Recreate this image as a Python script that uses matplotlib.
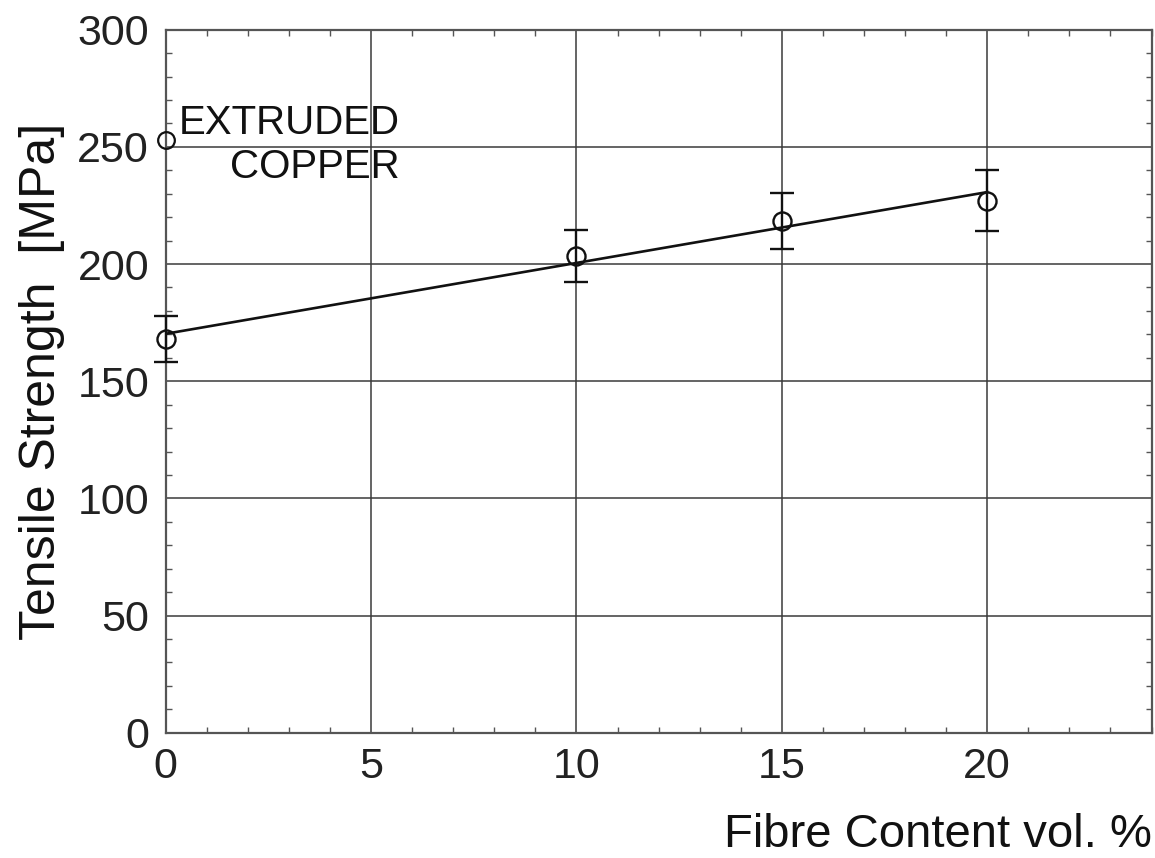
import numpy as np
import matplotlib
matplotlib.use("Agg")
import matplotlib.pyplot as plt
from matplotlib.ticker import MultipleLocator

plt.rcParams['font.family'] = ['Liberation Sans', 'DejaVu Sans']

# composite samples
fibre = [0, 10, 15, 20]
strength = [168, 203.5, 218.5, 227]
err = [10, 11, 12, 13]

# reference material
copper_x = [0]
copper_y = [253]

fig = plt.figure(figsize=(11.55, 8.58), dpi=100)
ax = fig.add_axes([0.1435, 0.146, 0.8535, 0.8194])

ax.set_xlim(0, 24)
ax.set_ylim(0, 300)
ax.xaxis.set_major_locator(MultipleLocator(5))
ax.xaxis.set_minor_locator(MultipleLocator(1))
ax.yaxis.set_major_locator(MultipleLocator(50))
ax.yaxis.set_minor_locator(MultipleLocator(10))
ax.set_xticks([0, 5, 10, 15, 20])
ax.grid(True, which='major', color='#3a3a3a', linewidth=1.1)
ax.set_axisbelow(True)

ax.tick_params(which='both', direction='in', top=True, right=True,
               colors='#555555', labelcolor='#222222')
ax.tick_params(which='major', length=0, labelsize=31, pad=12)
ax.tick_params(which='minor', length=4, width=1)
ax.tick_params(axis='x', which='major', pad=10)
for s in ax.spines.values():
    s.set_color('#555555')
    s.set_linewidth(1.6)

# linear regression through the samples
k, b = np.polyfit(fibre, strength, 1)
xs = np.array([fibre[0], fibre[-1]])
ax.plot(xs, k * xs + b, color='#111111', linewidth=1.9, zorder=3)

eb = ax.errorbar(fibre, strength, yerr=err, fmt='o', mfc='none', mec='#111111',
                 ms=13, mew=1.7, ecolor='#111111', elinewidth=1.7, capsize=8.5,
                 capthick=2.2, zorder=4)
for art in eb.lines[0:1] + tuple(eb.lines[1]) + tuple(eb.lines[2]):
    art.set_clip_on(False)
ax.plot(copper_x, copper_y, 'o', mfc='none', mec='#111111', ms=12, mew=1.6,
        clip_on=False, zorder=5)

ax.text(5.7, 255.5, 'EXTRUDED', ha='right', va='baseline', fontsize=29,
        color='#111111')
ax.text(5.7, 236.7, 'COPPER', ha='right', va='baseline', fontsize=29,
        color='#111111')

ax.set_xlabel('Fibre Content vol. %', fontsize=34, color='#111111',
              loc='right')
ax.xaxis.label.set_verticalalignment('baseline')
ax.xaxis.set_label_coords(1.0, -0.163)
ax.set_ylabel('Tensile Strength  [MPa]', fontsize=36, color='#111111')
ax.yaxis.set_label_coords(-0.102, 0.5)

fig.savefig('out.png', dpi=100)
